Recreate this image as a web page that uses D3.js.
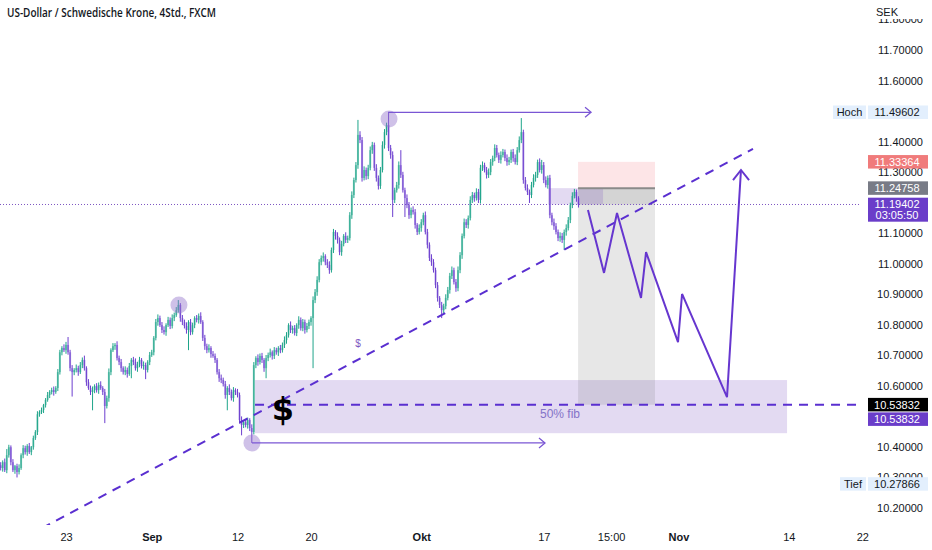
<!DOCTYPE html>
<html>
<head>
<meta charset="utf-8">
<script src="https://cdn.jsdelivr.net/npm/d3@7"></script>
<style>
body { margin: 0; background: #fff; }
svg { display: block; font-family: "Liberation Sans", Arial, sans-serif; }
</style>
</head>
<body>
<div id="chart"></div>
<script>
// time is measured in trading days, 0 = 23 Aug (weekends skipped, 6 candles of 4h per day)
var firstCandleT = -5.333;
var firstOpen = 10.340;

// 4h closes left to right
var closes = [
    10.331, 10.350, 10.324, 10.373, 10.399,  10.350, 10.324, 10.337, 10.318, 10.331,
    10.373, 10.396, 10.383, 10.403, 10.383,  10.399, 10.429, 10.449, 10.507, 10.514,
    10.521, 10.537, 10.554, 10.570, 10.580,  10.586, 10.580, 10.593, 10.645, 10.710,
    10.724, 10.717, 10.734, 10.710, 10.658,  10.645, 10.652, 10.658, 10.645, 10.668,
    10.685, 10.658, 10.612, 10.593, 10.580,  10.586, 10.599, 10.586, 10.603, 10.593,
    10.580, 10.534, 10.560, 10.645, 10.717,  10.730, 10.734, 10.691, 10.678, 10.658,
    10.645, 10.652, 10.639, 10.665, 10.685,  10.678, 10.658, 10.671, 10.685, 10.665,
    10.668, 10.652, 10.678, 10.701, 10.710,  10.757, 10.809, 10.822, 10.799, 10.783,
    10.776, 10.799, 10.816, 10.796, 10.822,  10.832, 10.848, 10.865, 10.822, 10.809,
    10.796, 10.783, 10.809, 10.776, 10.799,  10.822, 10.816, 10.829, 10.809, 10.757,
    10.730, 10.717, 10.724, 10.704, 10.698,  10.685, 10.645, 10.625, 10.619, 10.606,
    10.570, 10.593, 10.580, 10.560, 10.586,  10.580, 10.570, 10.488, 10.472, 10.481,
    10.472, 10.488, 10.462, 10.449, 10.668,  10.691, 10.678, 10.698, 10.685, 10.658,
    10.691, 10.701, 10.710, 10.698, 10.717,  10.710, 10.724, 10.717, 10.734, 10.750,
    10.766, 10.799, 10.783, 10.789, 10.773,  10.799, 10.816, 10.789, 10.809, 10.783,
    10.796, 10.809, 10.822, 10.881, 10.907,  10.947, 11.005, 11.019, 11.025, 11.005,
    10.996, 10.979, 11.045, 11.104, 11.091,  11.078, 11.038, 11.065, 11.091, 11.078,
    11.084, 11.159, 11.225, 11.274, 11.323,  11.422, 11.405, 11.281, 11.307, 11.287,
    11.314, 11.372, 11.389, 11.314, 11.281,  11.255, 11.307, 11.389, 11.431, 11.454,
    11.379, 11.356, 11.209, 11.241, 11.258,  11.323, 11.291, 11.241, 11.215, 11.192,
    11.159, 11.176, 11.169, 11.127, 11.104,  11.117, 11.136, 11.159, 11.104, 11.062,
    11.019, 11.005, 10.979, 10.930, 10.888,  10.865, 10.848, 10.861, 10.888, 10.914,
    10.960, 10.979, 10.940, 10.920, 10.979,  11.028, 11.091, 11.136, 11.127, 11.150,
    11.209, 11.225, 11.215, 11.235, 11.209,  11.314, 11.323, 11.307, 11.291, 11.300,
    11.333, 11.346, 11.379, 11.356, 11.340,  11.356, 11.366, 11.346, 11.333, 11.340,
    11.366, 11.346, 11.333, 11.372, 11.405,  11.431, 11.274, 11.248, 11.235, 11.225,
    11.258, 11.281, 11.291, 11.333, 11.307,  11.323, 11.274, 11.258, 11.281, 11.159,
    11.136, 11.123, 11.104, 11.084, 11.091,  11.078, 11.104, 11.117, 11.143, 11.192,
    11.222, 11.235, 11.215, 11.194
];

// wick length above the body / below the body
var wickUp = [
    .010,.006,.012,.020,.008, .006,.010,.004,.008,.012,
    .006,.010,.008,.006,.010, .004,.008,.006,.010,.006,
    .008,.004,.006,.010,.006, .008,.012,.006,.010,.008,
    .006,.012,.010,.026,.008, .010,.006,.012,.008,.010,
    .008,.014,.006,.010,.008, .012,.006,.010,.008,.012,
    .006,.010,.008,.012,.006, .010,.006,.012,.008,.010,
    .006,.012,.008,.010,.006, .010,.012,.008,.010,.006,
    .012,.008,.006,.010,.008, .006,.010,.012,.008,.010,
    .012,.006,.010,.008,.012, .008,.010,.016,.006,.010,
    .008,.012,.006,.010,.008, .006,.010,.008,.012,.006,
    .010,.008,.012,.006,.010, .008,.006,.010,.012,.008,
    .010,.006,.012,.008,.010, .006,.010,.008,.012,.006,
    .010,.008,.006,.012,.010, .006,.012,.008,.010,.006,
    .010,.008,.012,.006,.010, .008,.006,.010,.008,.012,
    .010,.006,.012,.008,.010, .006,.012,.008,.010,.008,
    .010,.008,.006,.012,.010, .012,.010,.008,.012,.006,
    .010,.012,.008,.010,.006, .012,.008,.010,.006,.012,
    .008,.010,.012,.008,.010, .049,.012,.010,.012,.008,
    .010,.012,.010,.008,.012, .008,.010,.012,.010,.008,
    .042,.010,.012,.008,.010, .012,.049,.010,.008,.012,
    .010,.008,.012,.010,.006, .012,.010,.008,.012,.010,
    .008,.012,.010,.008,.010, .006,.010,.008,.012,.010,
    .010,.012,.008,.010,.012, .010,.008,.012,.010,.008,
    .012,.010,.008,.012,.010, .010,.012,.008,.010,.012,
    .010,.008,.012,.010,.008, .012,.010,.008,.012,.010,
    .008,.010,.012,.010,.012, .046,.008,.010,.012,.008,
    .010,.012,.010,.008,.012, .017,.010,.012,.008,.010,
    .008,.012,.010,.008,.012, .010,.008,.012,.010,.008,
    .012,.010,.008,.006
];
var wickDn = [
    .008,.012,.006,.010,.008, .010,.006,.012,.018,.008,
    .006,.010,.008,.012,.006, .010,.008,.006,.010,.008,
    .006,.010,.008,.006,.010, .008,.012,.006,.010,.008,
    .010,.006,.012,.008,.010, .080,.010,.008,.012,.006,
    .010,.008,.012,.006,.010, .060,.010,.008,.012,.006,
    .010,.056,.008,.012,.010, .006,.012,.008,.010,.012,
    .008,.010,.012,.006,.040, .010,.008,.012,.010,.008,
    .012,.030,.008,.010,.006, .010,.008,.012,.006,.010,
    .008,.012,.006,.010,.008, .010,.006,.008,.012,.010,
    .008,.012,.066,.010,.008, .010,.008,.012,.006,.010,
    .012,.010,.008,.012,.006, .010,.008,.012,.010,.008,
    .012,.050,.010,.008,.012, .010,.008,.012,.034,.010,
    .008,.012,.010,.036,.008, .010,.012,.008,.010,.012,
    .033,.010,.008,.012,.010, .008,.012,.010,.008,.010,
    .012,.008,.010,.012,.008, .010,.012,.008,.010,.012,
    .008,.010,.012,.164,.010, .012,.008,.010,.012,.010,
    .010,.012,.008,.010,.012, .012,.010,.012,.008,.010,
    .010,.008,.012,.010,.008, .012,.010,.012,.008,.012,
    .010,.008,.012,.010,.012, .012,.010,.008,.012,.010,
    .010,.012,.056,.010,.008, .012,.010,.008,.062,.010,
    .012,.010,.008,.012,.010, .008,.012,.010,.008,.012,
    .010,.012,.008,.010,.012, .010,.026,.012,.010,.008,
    .012,.010,.008,.012,.010, .010,.012,.008,.010,.012,
    .008,.010,.012,.008,.010, .012,.010,.008,.012,.010,
    .010,.012,.010,.008,.010, .012,.008,.010,.012,.010,
    .010,.012,.008,.010,.008, .010,.012,.008,.010,.026,
    .010,.008,.012,.010,.008, .012,.010,.008,.012,.010,
    .010,.012,.008,.010,.012, .010,.033,.012,.008,.010,
    .010,.008,.012,.010
];

// 11.2, 11.5 and 10.5 sit fully under price tags in the picture
var priceTicks = [10.2, 10.3, 10.4, 10.6, 10.7, 10.8, 10.9, 11.0, 11.1, 11.3, 11.4, 11.6, 11.7, 11.8];
var dateTicks = [0, 7, 14, 20, 29, 39, 44.5, 50, 59, 65];
var dateLabels = ["23", "Sep", "12", "20", "Okt", "17", "15:00", "Nov", "14", "22"];
var monthLabels = ["Sep", "Okt", "Nov"];

// marked prices
var hochPrice = 11.49602;
var tiefPrice = 10.27866;
var stopPrice = 11.33364;
var entryPrice = 11.24758;
var lastPrice = 11.19402;
var fibPrice = 10.53832;
var countdown = "03:05:50";

// drawings, as [t, price]
var trendLine = [[-1.96, 10.134], [56.08, 11.376]];
var trendLabel = [23.84, 10.727];
var zoneT = [15.43, 58.86];
var zoneP = [10.445, 10.619];
var fibStartT = 15.43;
var fibLabel = [40.33, 10.508];
var dollarMark = [17.71, 10.527];
var positionT = [41.8, 48.08];
var lastBoxT = [39.35, 43.84];
var highArrow = [[26.29, 11.49602], [42.86, 11.49602]];
var lowArrow = [[15.18, 10.413], [39.1, 10.413]];
var pivots = [[9.22, 10.865], [26.37, 11.474], [15.18, 10.413]];
var zigzag = [[42.61, 11.176], [43.92, 10.970], [44.98, 11.166], [46.94, 10.888], [47.35, 11.038],
              [49.96, 10.743], [50.29, 10.901], [53.96, 10.563], [55.10, 11.307]];
var zigzagHead = [[54.45, 11.274], [55.10, 11.307], [55.76, 11.274]];

var W = 932, H = 550, plotW = 860, plotH = 525;
var up = "#1fa58a", down = "#6d3fcf", ink = "#131722", violet = "#5a2fd0";

var svg = d3.select("#chart").append("svg")
    .attr("width", W)
    .attr("height", H);

var x = d3.scaleLinear().domain([-5.388, 64.816]).range([0, plotW]);
var y = d3.scaleLinear().domain([10.2, 11.7]).range([508, 50]);

svg.append("clipPath").attr("id", "plot")
    .append("rect").attr("width", plotW).attr("height", plotH);

var plot = svg.append("g").attr("clip-path", "url(#plot)");

// zone, position tool
plot.append("rect")
    .attr("x", x(zoneT[0])).attr("width", x(zoneT[1]) - x(zoneT[0]))
    .attr("y", y(zoneP[1])).attr("height", y(zoneP[0]) - y(zoneP[1]))
    .attr("fill", "rgba(126,87,194,0.22)");

plot.append("rect")
    .attr("x", x(positionT[0])).attr("width", x(positionT[1]) - x(positionT[0]))
    .attr("y", y(stopPrice)).attr("height", y(entryPrice) - y(stopPrice))
    .attr("fill", "rgba(242,54,69,0.13)");
plot.append("rect")
    .attr("x", x(positionT[0])).attr("width", x(positionT[1]) - x(positionT[0]))
    .attr("y", y(entryPrice)).attr("height", y(fibPrice) - y(entryPrice))
    .attr("fill", "rgba(110,110,110,0.17)");
plot.append("rect")
    .attr("x", x(positionT[0])).attr("width", x(positionT[1]) - x(positionT[0]))
    .attr("y", y(entryPrice)).attr("height", y(lastPrice) - y(entryPrice))
    .attr("fill", "rgba(110,110,110,0.15)");
plot.append("rect")
    .attr("x", x(lastBoxT[0])).attr("width", x(lastBoxT[1]) - x(lastBoxT[0]))
    .attr("y", y(entryPrice)).attr("height", y(lastPrice) - y(entryPrice))
    .attr("fill", "rgba(126,87,194,0.22)");
plot.append("line")
    .attr("x1", x(positionT[0])).attr("x2", x(positionT[1]))
    .attr("y1", y(entryPrice)).attr("y2", y(entryPrice))
    .attr("stroke", "#8a8a8a").attr("stroke-width", 2);

// current price line
plot.append("line")
    .attr("x1", 0).attr("x2", plotW)
    .attr("y1", y(lastPrice)).attr("y2", y(lastPrice))
    .attr("stroke", "#7e57c2").attr("stroke-dasharray", "1,2");

// candles
var candles = closes.map(function(c, i) {
    var o = i ? closes[i - 1] : firstOpen;
    return {
        t: firstCandleT + i / 6,
        o: o,
        c: c,
        h: Math.max(o, c) + wickUp[i],
        l: Math.min(o, c) - wickDn[i]
    };
});
var colorOf = function(d) { return d.c >= d.o ? up : down; };

var cg = plot.append("g");
cg.selectAll("rect")
    .data(candles)
    .enter()
    .append("rect")
    .attr("x", function(d) { return x(d.t) - 1; })
    .attr("width", 2)
    .attr("y", function(d) { return y(Math.max(d.o, d.c)); })
    .attr("height", function(d) { return Math.max(1, Math.abs(y(d.o) - y(d.c))); })
    .attr("fill", colorOf)
    .attr("opacity", 0.5);
cg.selectAll("line")
    .data(candles)
    .enter()
    .append("line")
    .attr("x1", function(d) { return x(d.t); })
    .attr("x2", function(d) { return x(d.t); })
    .attr("y1", function(d) { return y(d.h); })
    .attr("y2", function(d) { return y(d.l); })
    .attr("stroke", colorOf)
    .attr("stroke-width", 1);

// pivot circles
plot.selectAll("circle.pivot")
    .data(pivots)
    .enter()
    .append("circle")
    .attr("class", "pivot")
    .attr("cx", function(d) { return x(d[0]); })
    .attr("cy", function(d) { return y(d[1]); })
    .attr("r", 8.5)
    .attr("fill", "rgba(149,117,205,0.45)");

// horizontal arrows from the high and the low
var line = d3.line()
    .x(function(d) { return x(d[0]); })
    .y(function(d) { return y(d[1]); });

[highArrow, lowArrow].forEach(function(a) {
    plot.append("path")
        .attr("d", line(a))
        .attr("fill", "none")
        .attr("stroke", "#7a56d4").attr("stroke-width", 1.3);
    var ex = x(a[1][0]), ey = y(a[1][1]);
    plot.append("path")
        .attr("d", "M" + (ex - 6) + "," + (ey - 5) + "L" + ex + "," + ey + "L" + (ex - 6) + "," + (ey + 5))
        .attr("fill", "none")
        .attr("stroke", "#7a56d4").attr("stroke-width", 1.3);
});

// trend line and fib line
plot.append("path")
    .attr("d", line(trendLine))
    .attr("fill", "none")
    .attr("stroke", violet).attr("stroke-width", 2)
    .attr("stroke-dasharray", "9,7");
plot.append("line")
    .attr("x1", x(fibStartT)).attr("x2", plotW)
    .attr("y1", y(fibPrice)).attr("y2", y(fibPrice))
    .attr("stroke", violet).attr("stroke-width", 2)
    .attr("stroke-dasharray", "9,7");

plot.append("text")
    .attr("x", x(trendLabel[0])).attr("y", y(trendLabel[1]))
    .attr("text-anchor", "middle")
    .attr("font-size", "10px")
    .attr("fill", "#7e57c2")
    .text("$");
plot.append("text")
    .attr("x", x(fibLabel[0])).attr("y", y(fibLabel[1]))
    .attr("dy", "0.35em")
    .attr("text-anchor", "middle")
    .attr("font-size", "12px")
    .attr("fill", "#8473c8")
    .text("50% fib");
plot.append("text")
    .attr("x", x(dollarMark[0])).attr("y", y(dollarMark[1]))
    .attr("dy", "0.36em")
    .attr("text-anchor", "middle")
    .attr("font-size", "32px")
    .attr("font-weight", "bold")
    .attr("font-family", "'DejaVu Sans', sans-serif")
    .attr("fill", "#000")
    .text("$");

// projected path
plot.append("path")
    .attr("d", line(zigzag))
    .attr("fill", "none")
    .attr("stroke", "#6636cf").attr("stroke-width", 2)
    .attr("stroke-linejoin", "miter");
plot.append("path")
    .attr("d", line(zigzagHead))
    .attr("fill", "none")
    .attr("stroke", "#6636cf").attr("stroke-width", 2);

// title
svg.append("text")
    .attr("x", 7).attr("y", 17)
    .attr("font-family", "'Open Sans', sans-serif")
    .attr("font-weight", 600)
    .attr("font-size", "12px")
    .attr("fill", ink)
    .attr("textLength", 209)
    .attr("lengthAdjust", "spacingAndGlyphs")
    .text("US-Dollar / Schwedische Krone, 4Std., FXCM");

// price axis
var yAxis = svg.append("g")
    .attr("transform", "translate(923,0)")
    .call(d3.axisLeft(y).tickValues(priceTicks).tickFormat(d3.format(".5f")).tickSize(0).tickPadding(0));
yAxis.select(".domain").remove();
yAxis.selectAll("text")
    .attr("font-family", "'Liberation Sans', Arial, sans-serif")
    .attr("font-size", "11px")
    .attr("fill", ink);

svg.append("rect").attr("x", 862).attr("y", 0).attr("width", 70).attr("height", 19).attr("fill", "#fff");
svg.append("text")
    .attr("x", 876).attr("y", 16)
    .attr("font-size", "11px")
    .attr("fill", ink)
    .text("SEK");

// price tags on the axis
var tag = function(p, label, fill, color, offset, lines) {
    var h = lines ? 24 : 13.5;
    var top = y(p) - 6.8 + (offset || 0);
    svg.append("rect")
        .attr("x", 868).attr("y", top)
        .attr("width", 60).attr("height", h)
        .attr("fill", fill);
    svg.append("text")
        .attr("x", 897).attr("y", top + 6.8)
        .attr("dy", "0.35em")
        .attr("text-anchor", "middle")
        .attr("font-size", "11px")
        .attr("fill", color)
        .text(label);
    if (lines) {
        svg.append("text")
            .attr("x", 897).attr("y", top + 17.5)
            .attr("dy", "0.35em")
            .attr("text-anchor", "middle")
            .attr("font-size", "11px")
            .attr("fill", color)
            .text(lines);
    }
};
var sideTag = function(p, label, left) {
    svg.append("rect")
        .attr("x", left).attr("y", y(p) - 6.8)
        .attr("width", 866 - left).attr("height", 13.5)
        .attr("fill", "#e3effd");
    svg.append("text")
        .attr("x", (left + 866) / 2).attr("y", y(p))
        .attr("dy", "0.35em")
        .attr("text-anchor", "middle")
        .attr("font-size", "11px")
        .attr("fill", ink)
        .text(label);
};

var fmt = d3.format(".5f");
tag(hochPrice, fmt(hochPrice), "#e3effd", ink);
sideTag(hochPrice, "Hoch", 833);
tag(tiefPrice, fmt(tiefPrice), "#e3effd", ink);
sideTag(tiefPrice, "Tief", 840);
tag(stopPrice, fmt(stopPrice), "#f07b7b", "#fff");
tag(entryPrice, fmt(entryPrice), "#787b86", "#fff");
tag(lastPrice, fmt(lastPrice), "#6a3dc9", "#fff", 0, countdown);
tag(fibPrice, fmt(fibPrice), "#000", "#fff");
tag(fibPrice, fmt(fibPrice), "#6a3dc9", "#fff", 14.5);

// time axis
var xAxis = svg.append("g")
    .attr("transform", "translate(0,530)")
    .call(d3.axisBottom(x).tickValues(dateTicks)
        .tickFormat(function(d, i) { return dateLabels[i]; })
        .tickSize(0).tickPadding(3));
xAxis.select(".domain").remove();
xAxis.selectAll("text")
    .attr("font-family", "'Liberation Sans', Arial, sans-serif")
    .attr("font-size", "11px")
    .attr("fill", ink)
    .attr("font-weight", function(d, i) { return monthLabels.indexOf(dateLabels[i]) >= 0 ? "bold" : "normal"; });
</script>
</body>
</html>
